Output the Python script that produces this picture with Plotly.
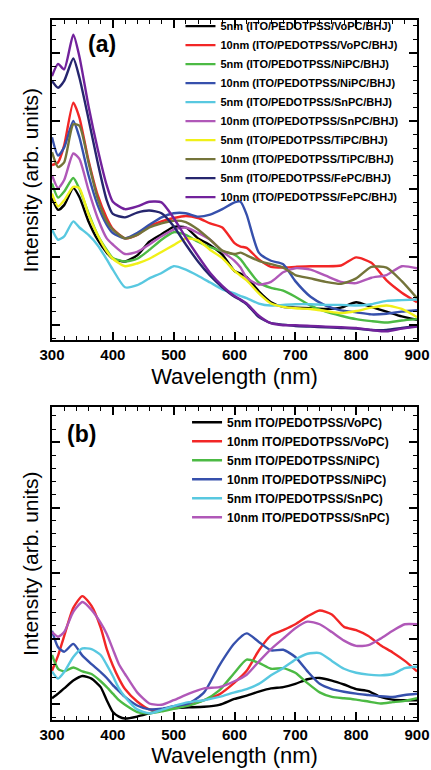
import plotly.graph_objects as go

# ---------------- Panel (a) data ----------------
wl_a = [300, 310, 320, 335, 345, 360, 375, 390, 400, 420, 440, 460, 480, 500, 520, 540, 560, 580,
        600, 610, 620, 640, 660, 680, 700, 725, 750, 775, 800, 825, 850, 875, 900]

a_5nm_VoPC = [1.87, 1.69, 1.76, 2.01, 1.88, 1.52, 1.25, 1.06, 0.97, 0.93, 1.02, 1.22, 1.33, 1.44, 1.43, 1.27, 1.17, 1.03,
              0.79, 0.75, 0.70, 0.49, 0.33, 0.26, 0.25, 0.24, 0.23, 0.25, 0.33, 0.26, 0.19, 0.12, 0.07]
a_10nm_VoPC = [2.35, 2.39, 2.64, 3.27, 3.05, 2.42, 1.91, 1.57, 1.41, 1.27, 1.32, 1.45, 1.52, 1.57, 1.60, 1.57, 1.49, 1.43,
               1.20, 1.15, 1.13, 0.96, 0.85, 0.84, 0.85, 0.86, 0.86, 0.87, 0.99, 0.91, 0.65, 0.47, 0.33]
a_5nm_NiPC = [2.08, 1.87, 1.96, 2.16, 2.00, 1.64, 1.32, 1.10, 0.98, 0.93, 0.97, 1.10, 1.25, 1.36, 1.32, 1.22, 1.14, 1.08,
              1.03, 0.96, 0.84, 0.62, 0.54, 0.50, 0.41, 0.28, 0.19, 0.13, 0.08, 0.05, 0.03, 0.06, 0.08]
a_10nm_NiPC = [2.76, 2.49, 2.61, 3.00, 2.76, 2.20, 1.76, 1.47, 1.35, 1.27, 1.35, 1.47, 1.58, 1.64, 1.64, 1.59, 1.62, 1.70,
               1.80, 1.81, 1.62, 1.06, 0.94, 0.89, 0.64, 0.41, 0.28, 0.21, 0.18, 0.15, 0.16, 0.19, 0.21]
a_5nm_SnPC = [1.40, 1.25, 1.30, 1.52, 1.43, 1.32, 1.17, 0.96, 0.81, 0.55, 0.58, 0.68, 0.76, 0.86, 0.81, 0.72, 0.62, 0.52,
              0.46, 0.42, 0.39, 0.31, 0.28, 0.29, 0.30, 0.30, 0.29, 0.29, 0.28, 0.30, 0.35, 0.36, 0.37]
a_10nm_SnPC = [2.20, 2.01, 2.13, 2.52, 2.44, 1.98, 1.57, 1.27, 1.18, 1.04, 1.07, 1.18, 1.30, 1.40, 1.43, 1.35, 1.25, 1.08,
               0.94, 0.84, 0.69, 0.59, 0.63, 0.77, 0.83, 0.81, 0.72, 0.63, 0.61, 0.69, 0.73, 0.86, 0.83]
a_5nm_TiPC = [1.93, 1.74, 1.83, 2.03, 2.01, 1.62, 1.32, 1.08, 0.97, 0.86, 0.90, 0.97, 1.07, 1.17, 1.27, 1.24, 1.10, 0.98,
              0.79, 0.72, 0.65, 0.46, 0.31, 0.26, 0.24, 0.23, 0.20, 0.17, 0.20, 0.25, 0.28, 0.23, 0.11]
a_10nm_TiPC = [2.54, 2.32, 2.39, 2.95, 2.93, 2.39, 1.86, 1.52, 1.40, 1.27, 1.32, 1.43, 1.49, 1.53, 1.51, 1.40, 1.25, 1.09,
               1.04, 1.06, 1.02, 0.94, 0.89, 0.84, 0.73, 0.68, 0.63, 0.60, 0.68, 0.85, 0.84, 0.64, 0.39]
a_5nm_FePC = [3.59, 3.49, 3.59, 3.92, 3.64, 3.03, 2.39, 1.83, 1.63, 1.58, 1.65, 1.68, 1.64, 1.45, 1.18, 0.93, 0.72, 0.55,
              0.41, 0.36, 0.30, 0.11, 0.02, 0.00, -0.02, -0.03, -0.04, -0.05, -0.06, -0.08, -0.08, -0.05, -0.02]
a_10nm_FePC = [3.66, 3.84, 3.76, 4.27, 3.95, 3.22, 2.59, 2.05, 1.81, 1.70, 1.74, 1.81, 1.80, 1.57, 1.28, 1.01, 0.76, 0.57,
               0.42, 0.37, 0.31, 0.13, 0.02, -0.01, -0.01, -0.02, -0.03, -0.04, -0.05, -0.08, -0.10, -0.06, -0.03]

names_a = ["5nm (ITO/PEDOTPSS/VoPC/BHJ)", "10nm (ITO/PEDOTPSS/VoPC/BHJ)",
           "5nm (ITO/PEDOTPSS/NiPC/BHJ)", "10nm (ITO/PEDOTPSS/NiPC/BHJ)",
           "5nm (ITO/PEDOTPSS/SnPC/BHJ)", "10nm (ITO/PEDOTPSS/SnPC/BHJ)",
           "5nm (ITO/PEDOTPSS/TiPC/BHJ)", "10nm (ITO/PEDOTPSS/TiPC/BHJ)",
           "5nm (ITO/PEDOTPSS/FePC/BHJ)", "10nm (ITO/PEDOTPSS/FePC/BHJ)"]
series_a = [a_5nm_VoPC, a_10nm_VoPC, a_5nm_NiPC, a_10nm_NiPC, a_5nm_SnPC, a_10nm_SnPC,
            a_5nm_TiPC, a_10nm_TiPC, a_5nm_FePC, a_10nm_FePC]

# ---------------- Panel (b) data ----------------
wl_b = [300, 310, 320, 335, 350, 365, 380, 390, 400, 410, 420, 440, 460, 480, 500, 525, 550, 575,
        600, 620, 640, 660, 680, 700, 720, 740, 760, 780, 800, 820, 840, 860, 880, 900]

b_5nm_VoPC = [0.09, 0.16, 0.24, 0.36, 0.43, 0.39, 0.26, 0.06, -0.12, -0.19, -0.22, -0.19, -0.14, -0.09, -0.06, -0.05, -0.04, -0.01,
              0.08, 0.13, 0.19, 0.24, 0.26, 0.31, 0.38, 0.40, 0.36, 0.30, 0.23, 0.20, 0.11, 0.07, 0.06, 0.06]
b_10nm_VoPC = [0.51, 0.74, 1.04, 1.47, 1.65, 1.50, 1.17, 0.84, 0.59, 0.39, 0.23, 0.04, -0.08, -0.09, -0.06, -0.01, 0.06, 0.15,
               0.33, 0.51, 0.82, 1.05, 1.13, 1.22, 1.34, 1.43, 1.37, 1.18, 1.13, 1.04, 0.90, 0.79, 0.66, 0.50]
b_5nm_NiPC = [0.75, 0.54, 0.50, 0.56, 0.50, 0.46, 0.35, 0.26, 0.16, 0.06, -0.01, -0.12, -0.14, -0.11, -0.07, -0.02, 0.06, 0.21,
              0.48, 0.68, 0.63, 0.54, 0.55, 0.48, 0.32, 0.18, 0.11, 0.09, 0.07, 0.04, 0.01, 0.03, 0.05, 0.09]
b_10nm_NiPC = [1.12, 0.87, 0.80, 0.92, 0.74, 0.61, 0.49, 0.40, 0.29, 0.20, 0.11, -0.02, -0.08, -0.07, -0.03, 0.01, 0.18, 0.59,
               0.93, 1.08, 0.95, 0.82, 0.83, 0.72, 0.50, 0.31, 0.23, 0.19, 0.16, 0.14, 0.12, 0.11, 0.14, 0.16]
b_5nm_SnPC = [0.50, 0.39, 0.49, 0.72, 0.85, 0.84, 0.75, 0.60, 0.43, 0.24, 0.11, -0.08, -0.14, -0.09, -0.03, 0.03, 0.06, 0.11,
              0.18, 0.23, 0.31, 0.44, 0.55, 0.68, 0.77, 0.78, 0.66, 0.54, 0.48, 0.45, 0.44, 0.46, 0.55, 0.57]
b_10nm_SnPC = [1.10, 1.03, 1.10, 1.41, 1.56, 1.44, 1.24, 1.07, 0.84, 0.61, 0.46, 0.18, 0.01, -0.01, 0.06, 0.16, 0.24, 0.26,
               0.35, 0.45, 0.65, 0.84, 1.00, 1.16, 1.26, 1.22, 1.10, 0.97, 0.89, 0.90, 1.00, 1.12, 1.22, 1.22]

names_b = ["5nm ITO/PEDOTPSS/VoPC)", "10nm ITO/PEDOTPSS/VoPC)",
           "5nm ITO/PEDOTPSS/NiPC)", "10nm ITO/PEDOTPSS/NiPC)",
           "5nm ITO/PEDOTPSS/SnPC)", "10nm ITO/PEDOTPSS/SnPC)"]
series_b = [b_5nm_VoPC, b_10nm_VoPC, b_5nm_NiPC, b_10nm_NiPC, b_5nm_SnPC, b_10nm_SnPC]

x_ticks = [300, 400, 500, 600, 700, 800, 900]

# ---------------- styling ----------------
colors_a = ["#000000", "#F22626", "#4CBA44", "#3650AC", "#58C8E0",
            "#B058B8", "#F0F018", "#74743A", "#26266E", "#72229C"]
colors_b = colors_a[:6]
FONT = "Liberation Sans"

fig = go.Figure()
for i, (nm, ys) in enumerate(zip(names_a, series_a)):
    fig.add_trace(go.Scatter(x=wl_a, y=ys, name=nm, mode="lines", xaxis="x", yaxis="y",
                             line=dict(color=colors_a[i], width=2.4, shape="spline", smoothing=0.6),
                             legend="legend"))
for i, (nm, ys) in enumerate(zip(names_b, series_b)):
    fig.add_trace(go.Scatter(x=wl_b, y=ys, name=nm, mode="lines", xaxis="x2", yaxis="y2",
                             line=dict(color=colors_b[i], width=2.4, shape="spline", smoothing=0.6),
                             legend="legend2"))

def xax(anchor):
    return dict(range=[300, 900], tickvals=x_ticks, ticktext=[str(v) for v in x_ticks],
                ticks="inside", ticklen=8, tickwidth=1.6, tickcolor="black",
                minor=dict(dtick=20, ticks="inside", ticklen=4, tickwidth=1.4, tickcolor="black"),
                showline=True, linewidth=2, linecolor="black", mirror="allticks",
                showgrid=False, zeroline=False, anchor=anchor, automargin=False,
                ticklabelstandoff=0,
                tickfont=dict(family=FONT, size=15, color="black", weight="bold"),
                title=dict(text="Wavelength (nm)", font=dict(family=FONT, size=22, color="black"), standoff=6))

def yax(rng, dom, anchor):
    return dict(range=rng, domain=dom, tick0=0, dtick=1, showticklabels=False,
                ticks="inside", ticklen=8, tickwidth=1.6, tickcolor="black",
                minor=dict(dtick=0.2, ticks="inside", ticklen=4, tickwidth=1.4, tickcolor="black"),
                showline=True, linewidth=2, linecolor="black", mirror="allticks",
                showgrid=False, zeroline=False, anchor=anchor, automargin=False,
                title=dict(text="Intensity (arb. units)", font=dict(family=FONT, size=21, color="black"), standoff=6))

fig.update_layout(
    template="none",
    width=431, height=770,
    margin=dict(l=52, r=14, t=13, b=50),
    paper_bgcolor="white", plot_bgcolor="white",
    xaxis=xax("y"), yaxis=yax([-0.234, 4.487], [0.5422, 1.0], "x"),
    xaxis2=xax("y2"), yaxis2=yax([-0.242, 4.53], [0.0, 0.4465], "x2"),
    legend=dict(x=0.352, y=1.012, xanchor="left", yanchor="top", bgcolor="rgba(0,0,0,0)",
                font=dict(family=FONT, size=11, color="black", weight="bold"),
                itemwidth=30, tracegroupgap=0),
    legend2=dict(x=0.37, y=0.446, xanchor="left", yanchor="top", bgcolor="rgba(0,0,0,0)",
                 font=dict(family=FONT, size=12, color="black", weight="bold"),
                 itemwidth=30, tracegroupgap=0),
    annotations=[
        dict(text="(a)", x=0.137, y=0.966, xref="paper", yref="paper", showarrow=False,
             xanchor="center", yanchor="middle",
             font=dict(family=FONT, size=23, color="black", weight="bold")),
        dict(text="(b)", x=0.082, y=0.408, xref="paper", yref="paper", showarrow=False,
             xanchor="center", yanchor="middle",
             font=dict(family=FONT, size=23, color="black", weight="bold")),
    ],
    showlegend=True,
)

fig.write_html("out.html", config={"displayModeBar": False},
               post_script="document.body.style.margin='0';document.body.style.overflow='hidden';")
